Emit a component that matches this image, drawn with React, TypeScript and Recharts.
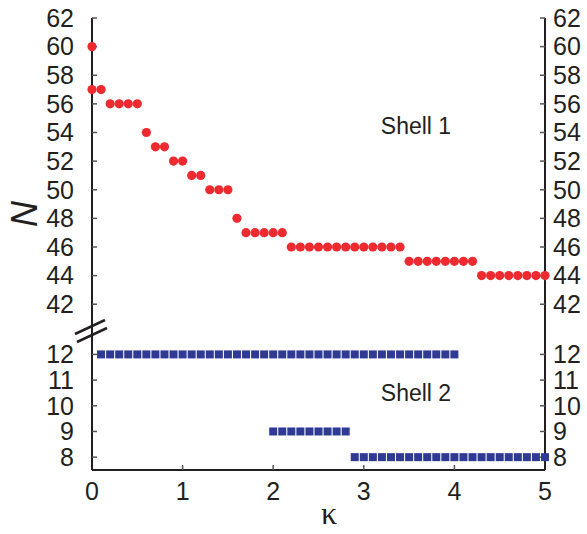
import React from "react"
import { Label, Scatter, ScatterChart, XAxis, YAxis } from "recharts"

// shell 1: red dots
const shell1Kappa = [
  0, 0, 0.1, 0.2, 0.3, 0.4, 0.5, 0.6, 0.7, 0.8, 0.9, 1.0, 1.1, 1.2, 1.3, 1.4, 1.5, 1.6,
  1.7, 1.8, 1.9, 2.0, 2.1, 2.2, 2.3, 2.4, 2.5, 2.6, 2.7, 2.8, 2.9, 3.0, 3.1, 3.2, 3.3, 3.4,
  3.5, 3.6, 3.7, 3.8, 3.9, 4.0, 4.1, 4.2, 4.3, 4.4, 4.5, 4.6, 4.7, 4.8, 4.9, 5.0,
]
const shell1N = [
  60, 57, 57, 56, 56, 56, 56, 54, 53, 53, 52, 52, 51, 51, 50, 50, 50, 48,
  47, 47, 47, 47, 47, 46, 46, 46, 46, 46, 46, 46, 46, 46, 46, 46, 46, 46,
  45, 45, 45, 45, 45, 45, 45, 45, 44, 44, 44, 44, 44, 44, 44, 44,
]

// shell 2: blue squares
const shell2Kappa = [
  0.1, 0.2, 0.3, 0.4, 0.5, 0.6, 0.7, 0.8, 0.9, 1.0, 1.1, 1.2, 1.3, 1.4, 1.5, 1.6, 1.7, 1.8, 1.9, 2.0,
  2.1, 2.2, 2.3, 2.4, 2.5, 2.6, 2.7, 2.8, 2.9, 3.0, 3.1, 3.2, 3.3, 3.4, 3.5, 3.6, 3.7, 3.8, 3.9, 4.0,
  2.0, 2.1, 2.2, 2.3, 2.4, 2.5, 2.6, 2.7, 2.8,
  2.9, 3.0, 3.1, 3.2, 3.3, 3.4, 3.5, 3.6, 3.7, 3.8, 3.9, 4.0, 4.1, 4.2, 4.3, 4.4, 4.5, 4.6, 4.7, 4.8, 4.9, 5.0,
]
const shell2N = [
  12, 12, 12, 12, 12, 12, 12, 12, 12, 12, 12, 12, 12, 12, 12, 12, 12, 12, 12, 12,
  12, 12, 12, 12, 12, 12, 12, 12, 12, 12, 12, 12, 12, 12, 12, 12, 12, 12, 12, 12,
  9, 9, 9, 9, 9, 9, 9, 9, 9,
  8, 8, 8, 8, 8, 8, 8, 8, 8, 8, 8, 8, 8, 8, 8, 8, 8, 8, 8, 8, 8, 8,
]

const kappaTicks = [0, 1, 2, 3, 4, 5]
const topTicks = [42, 44, 46, 48, 50, 52, 54, 56, 58, 60, 62]
const bottomTicks = [8, 9, 10, 11, 12]

const shell1 = shell1Kappa.map((k, i) => ({ k, n: shell1N[i] }))
const shell2 = shell2Kappa.map((k, i) => ({ k, n: shell2N[i] }))

const font = "'Liberation Sans', Arial, sans-serif"
const ink = "#231f20"
const axisLine = { stroke: ink, strokeWidth: 2 }
const tickLine = { stroke: "#555", strokeWidth: 1.5 }
const tickFont = { fontSize: 25, fill: ink, fontFamily: font }

const RedDot = (props: any) => <circle cx={props.cx} cy={props.cy} r={4.6} fill="#ec2a2f" />
const BlueSquare = (props: any) => (
  <rect x={props.cx - 4} y={props.cy - 4} width={8} height={8} fill="#2f3a94" />
)
const Nothing = () => <g />

export default function App() {
  return (
    <div style={{ position: "absolute", left: 0, top: 0, width: 587, height: 534, background: "#fff" }}>
      <div style={{ position: "absolute", left: 0, top: 0 }}>
        <ScatterChart width={587} height={332} margin={{ top: 18, right: 0, bottom: 2, left: 0 }}>
          <XAxis xAxisId="top" orientation="top" type="number" dataKey="k" domain={[0, 5]} height={0}
            axisLine={axisLine} tick={false} tickLine={false} />
          <XAxis type="number" dataKey="k" domain={[0, 5]} ticks={kappaTicks} height={0}
            axisLine={axisLine} tickLine={tickLine} tickSize={-5} tick={Nothing} interval={0} />
          <YAxis type="number" dataKey="n" domain={[40.2, 62]} ticks={topTicks} width={92}
            axisLine={axisLine} tickLine={tickLine} tickSize={-5} tickMargin={23} tick={tickFont}
            interval={0}>
            <Label
              content={() => (
                <text x={24} y={214} transform="rotate(-90 24 214)" textAnchor="middle"
                  dominantBaseline="central" fontSize={36} fontStyle="italic" fill={ink}
                  fontFamily={font}>N</text>
              )}
            />
          </YAxis>
          <YAxis yAxisId="right" orientation="right" type="number" dataKey="n" domain={[40.2, 62]}
            ticks={topTicks} width={42} axisLine={axisLine} tickLine={tickLine} tickSize={-5}
            tickMargin={13} tick={tickFont} interval={0} />
          <Scatter data={shell1} fill="#ec2a2f" shape={RedDot} isAnimationActive={false} />
          <Scatter data={shell1} yAxisId="right" shape={Nothing} isAnimationActive={false} />
          <text x={416} y={126} textAnchor="middle" dominantBaseline="central" fontSize={23}
            fill={ink} fontFamily={font}>Shell 1</text>
        </ScatterChart>
      </div>
      <div style={{ position: "absolute", left: 0, top: 328 }}>
        <ScatterChart width={587} height={206} margin={{ top: 2, right: 0, bottom: 0, left: 0 }}>
          <XAxis xAxisId="top" orientation="top" type="number" dataKey="k" domain={[0, 5]}
            ticks={kappaTicks} height={0} axisLine={axisLine} tickLine={tickLine} tickSize={-5}
            tick={Nothing} interval={0} />
          <XAxis type="number" dataKey="k" domain={[0, 5]} ticks={kappaTicks} height={64}
            axisLine={axisLine} tickLine={tickLine} tickSize={-5} tickMargin={17} tick={tickFont}
            interval={0}>
            <Label
              content={() => (
                <text x={329} y={196} textAnchor="middle" fontSize={32} fill={ink}
                  fontFamily="'Liberation Serif', 'Times New Roman', serif">κ</text>
              )}
            />
          </XAxis>
          <YAxis type="number" dataKey="n" domain={[7.5, 12.95]} ticks={bottomTicks} width={92}
            axisLine={axisLine} tickLine={tickLine} tickSize={-5} tickMargin={23} tick={tickFont}
            interval={0} />
          <YAxis yAxisId="right" orientation="right" type="number" dataKey="n" domain={[7.5, 12.95]}
            ticks={bottomTicks} width={42} axisLine={axisLine} tickLine={tickLine} tickSize={-5}
            tickMargin={13} tick={tickFont} interval={0} />
          <Scatter data={shell2} fill="#2f3a94" shape={BlueSquare} isAnimationActive={false} />
          <Scatter data={shell2} xAxisId="top" yAxisId="right" shape={Nothing} isAnimationActive={false} />
          <text x={416} y={65} textAnchor="middle" dominantBaseline="central" fontSize={23}
            fill={ink} fontFamily={font}>Shell 2</text>
        </ScatterChart>
      </div>
      {/* axis break marks */}
      <svg width={587} height={534} style={{ position: "absolute", left: 0, top: 0, pointerEvents: "none" }}>
        <line x1={75} y1={334} x2={105} y2={320} stroke={ink} strokeWidth={2.5} />
        <line x1={77} y1={342} x2={107} y2={328} stroke={ink} strokeWidth={2.5} />
      </svg>
    </div>
  )
}
